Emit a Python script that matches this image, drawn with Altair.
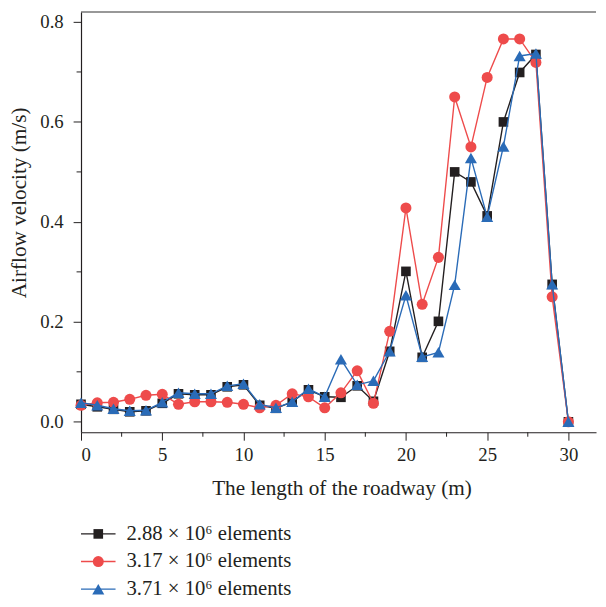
import altair as alt
import pandas as pd

# ---- data ----
lengths = list(range(31))
series_names = ["2.88 × 10⁶ elements", "3.17 × 10⁶ elements", "3.71 × 10⁶ elements"]
v_288 = [0.035, 0.030, 0.025, 0.020, 0.022, 0.037, 0.056, 0.054, 0.054, 0.070, 0.074,
         0.033, 0.027, 0.040, 0.064, 0.050, 0.049, 0.072, 0.041, 0.141, 0.301,
         0.129, 0.201, 0.500, 0.480, 0.412, 0.600, 0.699, 0.735, 0.275, 0.000]
v_317 = [0.033, 0.038, 0.039, 0.045, 0.053, 0.055, 0.035, 0.040, 0.040, 0.039, 0.035,
         0.028, 0.033, 0.056, 0.050, 0.028, 0.058, 0.102, 0.037, 0.181, 0.428,
         0.235, 0.329, 0.650, 0.550, 0.689, 0.766, 0.766, 0.719, 0.250, 0.000]
v_371 = [0.038, 0.033, 0.026, 0.022, 0.023, 0.039, 0.058, 0.056, 0.056, 0.072, 0.076,
         0.035, 0.028, 0.040, 0.066, 0.050, 0.125, 0.074, 0.082, 0.141, 0.253,
         0.130, 0.139, 0.274, 0.528, 0.410, 0.551, 0.732, 0.737, 0.275, 0.000]
x_ticks = [0, 5, 10, 15, 20, 25, 30]
x_minor = [2.5, 7.5, 12.5, 17.5, 22.5, 27.5]
y_ticks = [0.0, 0.2, 0.4, 0.6, 0.8]
y_minor = [0.1, 0.3, 0.5, 0.7]

colors = ["#231f20", "#ee4b4b", "#2a6bb7"]
shapes = ["square", "circle", "triangle-up"]
sizes = [95, 125, 150]
values = [v_288, v_317, v_371]

W, H = 522, 426
FONT = "Liberation Serif"
FS = 19
TFS = 21.5

xscale = alt.Scale(domain=[0, 31.7], nice=False, zero=False)
yscale = alt.Scale(domain=[-0.021, 0.82], nice=False, zero=False)
xaxis = alt.Axis(values=x_ticks, title="The length of the roadway (m)",
                 format="d", labelPadding=6,
                 titleX=264, titleY=63, titleBaseline="alphabetic", titleAlign="center")
yaxis = alt.Axis(values=y_ticks, title="Airflow velocity (m/s)",
                 format=".1f", labelPadding=10,
                 titleX=-56, titleY=193, titleAngle=270, titleBaseline="alphabetic",
                 titleAlign="center")

layers = []
for i, name in enumerate(series_names):
    df = pd.DataFrame({"x": lengths, "y": values[i], "series": name})
    base = alt.Chart(df)
    xenc = alt.X("x:Q", scale=xscale, axis=xaxis)
    yenc = alt.Y("y:Q", scale=yscale, axis=yaxis)
    line = base.mark_line(color=colors[i], strokeWidth=1.4, clip=False).encode(x=xenc, y=yenc)
    pts = base.mark_point(shape=shapes[i], filled=True, color=colors[i], size=sizes[i],
                          opacity=1, clip=False).encode(x=xenc, y=yenc)
    layers += [line, pts]

# minor ticks
mx = alt.Chart(pd.DataFrame({"x": x_minor})).mark_rule(color="#231f20", strokeWidth=1).encode(
    x=alt.X("x:Q", scale=xscale, axis=xaxis), y=alt.value(H), y2=alt.value(H + 4.5))
my = alt.Chart(pd.DataFrame({"y": y_minor})).mark_rule(color="#231f20", strokeWidth=1).encode(
    y=alt.Y("y:Q", scale=yscale, axis=yaxis), x=alt.value(0), x2=alt.value(-4.5))
top = alt.Chart(pd.DataFrame({"a": [0]})).mark_rule(color="#333333", strokeWidth=1.2).encode(
    x=alt.value(0), x2=alt.value(W), y=alt.value(0))
layers += [mx, my, top]

# legend below the plot
row_y = [529, 557, 585]
for i, name in enumerate(series_names):
    ldf = pd.DataFrame({"label": [name]})
    lb = alt.Chart(ldf)
    layers.append(lb.mark_rule(color=colors[i], strokeWidth=1.4).encode(
        x=alt.value(0), x2=alt.value(35), y=alt.value(row_y[i])))
    layers.append(lb.mark_point(shape=shapes[i], filled=True, color=colors[i],
                                size=sizes[i], opacity=1).encode(
        x=alt.value(17.5), y=alt.value(row_y[i])))
    layers.append(lb.mark_text(align="left", baseline="middle", font=FONT, fontSize=21,
                               color="#231f20").encode(
        x=alt.value(46), y=alt.value(row_y[i]), text="label:N"))

chart = alt.layer(*layers).properties(
    width=W, height=H,
    autosize=alt.AutoSizeParams(type="none"),
    padding={"left": 74, "top": 0, "right": 2, "bottom": 170},
).configure_view(stroke=None).configure_axis(
    domainColor="#231f20", tickColor="#231f20", tickSize=8, tickWidth=1, domainWidth=1.2,
    labelFont=FONT, labelFontSize=FS, labelColor="#231f20",
    titleFont=FONT, titleFontSize=TFS, titleFontWeight="normal", titleColor="#231f20",
    grid=False,
)

chart.save("out.html", embed_options={"renderer": "svg", "actions": False})
